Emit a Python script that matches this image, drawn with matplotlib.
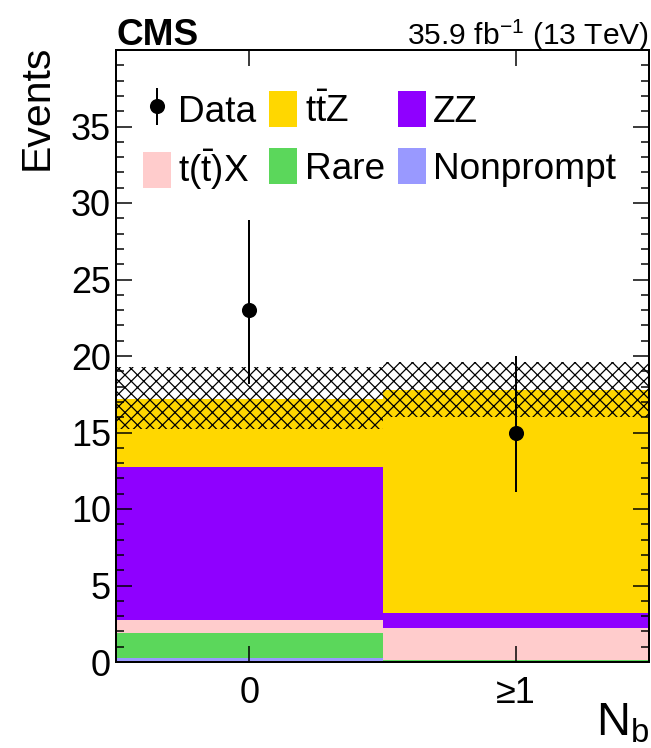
import numpy as np
import matplotlib
matplotlib.use('Agg')
import matplotlib.pyplot as plt

# Werte
bins = [0, 1]
bin_labels = ['0', '≥1']
nonprompt = [0.25, 0.0]
rare = [1.67, 0.15]
ttx = [0.83, 2.05]
zz = [10.0, 1.0]
ttz = [4.45, 14.6]
unc_low = [15.2, 16.0]
unc_high = [19.25, 19.6]
data = [23, 15]
data_err_lo = [4.8, 3.9]
data_err_hi = [5.9, 5.0]

DPI = 150
def pt(px):
    return px * 72.0 / DPI

plt.rcParams['font.family'] = ['Liberation Sans', 'DejaVu Sans']
plt.rcParams['mathtext.fontset'] = 'custom'
plt.rcParams['mathtext.rm'] = 'Liberation Sans'
plt.rcParams['mathtext.it'] = 'Liberation Sans:italic'
plt.rcParams['hatch.linewidth'] = 0.6

fig = plt.figure(figsize=(651 / DPI, 748 / DPI), dpi=DPI)
ax = fig.add_axes([116 / 651, 1 - 662 / 748, 533 / 651, 612 / 748])

x = np.array(bins)
stack = [
    (nonprompt, '#9999FF', 'Nonprompt'),
    (rare, '#5BD75B', 'Rare'),
    (ttx, '#FFCCCC', r'$\mathrm{t(\bar{t})X}$'),
    (zz, '#8F00FF', 'ZZ'),
    (ttz, '#FFD700', r'$\mathrm{t\bar{t}Z}$'),
]
bottom = np.zeros(2)
patches = {}
for vals, col, lab in stack:
    b = ax.bar(x, vals, width=1.0, bottom=bottom, color=col, linewidth=0, label=lab)
    patches[lab] = b
    bottom = bottom + np.array(vals)

# Unsicherheitsband
ax.bar(x, np.array(unc_high) - np.array(unc_low), width=1.0, bottom=unc_low,
       facecolor='none', edgecolor='black', hatch='xxxx', linewidth=0)

eb = ax.errorbar(x, data, yerr=[data_err_lo, data_err_hi], fmt='o', color='black',
                 markersize=pt(13), elinewidth=pt(2), capsize=0, label='Data')

ax.set_xlim(-0.5, 1.5)
ax.set_ylim(0, 40)
ax.set_xticks(bins)
ax.set_xticklabels(bin_labels)
ax.set_yticks(np.arange(0, 36, 5))
ax.set_yticks(np.arange(0, 41, 1), minor=True)
ax.tick_params(axis='both', which='both', direction='in', top=True, right=True,
               width=pt(1.5), color='black')
ax.tick_params(axis='both', which='major', length=pt(16), labelsize=pt(36))
ax.tick_params(axis='y', which='minor', length=pt(8))
ax.tick_params(axis='x', which='minor', bottom=False, top=False)
ax.tick_params(axis='x', which='major', pad=pt(14))
ax.tick_params(axis='y', which='major', pad=pt(5))
for s in ax.spines.values():
    s.set_linewidth(pt(2))

ax.set_ylabel('Events', fontsize=pt(41), ha='right', y=1.0)
ax.yaxis.set_label_coords(-0.113, 1.008)
ax.set_xlabel(r'N$_{\mathrm{b}}$', fontsize=pt(47), ha='right', va='top')
ax.xaxis.set_label_coords(1.0, -0.064)

ax.text(0.0, 1.008, 'CMS', transform=ax.transAxes, fontsize=pt(37),
        fontweight='bold', ha='left', va='baseline')
ax.text(1.0, 1.008, r'35.9 fb$^{\mathrm{-1}}$ (13 TeV)', transform=ax.transAxes,
        fontsize=pt(30), ha='right', va='baseline')

handles = [eb, patches[r'$\mathrm{t(\bar{t})X}$'], patches[r'$\mathrm{t\bar{t}Z}$'],
           patches['Rare'], patches['ZZ'], patches['Nonprompt']]
labels = ['Data', r'$\mathrm{t(\bar{t})X}$', r'$\mathrm{t\bar{t}Z}$', 'Rare', 'ZZ', 'Nonprompt']
ax.legend(handles, labels, ncol=3, loc='upper left', bbox_to_anchor=(0.05, 0.933),
          frameon=False, fontsize=pt(37), handlelength=0.76, handleheight=1.13,
          handletextpad=0.2, columnspacing=0.35, labelspacing=0.5,
          borderpad=0, borderaxespad=0)

fig.savefig('out.png', dpi=DPI)
